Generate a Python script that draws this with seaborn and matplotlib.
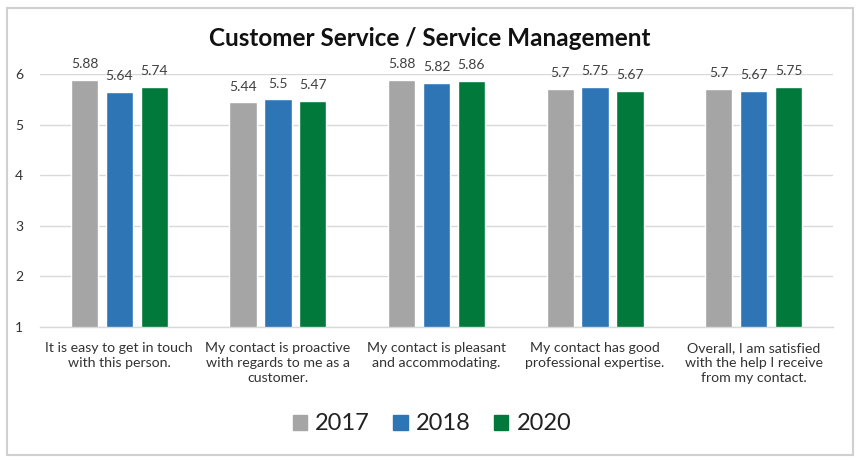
import matplotlib
matplotlib.use("Agg")
import matplotlib.pyplot as plt
import seaborn as sns
import pandas as pd
from matplotlib.patches import Rectangle

categories = [
    "It is easy to get in touch\nwith this person.",
    "My contact is proactive\nwith regards to me as a\ncustomer.",
    "My contact is pleasant\nand accommodating.",
    "My contact has good\nprofessional expertise.",
    "Overall, I am satisfied\nwith the help I receive\nfrom my contact.",
]
years = ["2017", "2018", "2020"]
values_2017 = [5.88, 5.44, 5.88, 5.7, 5.7]
values_2018 = [5.64, 5.5, 5.82, 5.75, 5.67]
values_2020 = [5.74, 5.47, 5.86, 5.67, 5.75]
label_2017 = ["5.88", "5.44", "5.88", "5.7", "5.7"]
label_2018 = ["5.64", "5.5", "5.82", "5.75", "5.67"]
label_2020 = ["5.74", "5.47", "5.86", "5.67", "5.75"]
colors = ["#A5A5A5", "#2E75B6", "#00793A"]

rows = []
for y, vals in zip(years, [values_2017, values_2018, values_2020]):
    for c, v in zip(categories, vals):
        rows.append({"category": c, "year": y, "value": v})
df = pd.DataFrame(rows)

sns.set_theme(style="white")
plt.rcParams["font.family"] = ["Lato", "DejaVu Sans"]

fig = plt.figure(figsize=(8.59, 4.63), dpi=100)
ax = fig.add_axes([40 / 859, 1 - 327 / 463, (833 - 40) / 859, (327 - 74) / 463])

sns.barplot(data=df, x="category", y="value", hue="year", order=categories,
            hue_order=years, palette=colors, width=0.66, gap=0.22,
            saturation=1, ax=ax, legend=True)

ax.set_ylim(1, 6)
ax.set_xlim(-0.5, 4.5)
ax.set_yticks([1, 2, 3, 4, 5, 6])
ax.yaxis.grid(True, color="#D9D9D9", linewidth=1)
ax.set_axisbelow(True)
for s in ["top", "right", "left"]:
    ax.spines[s].set_visible(False)
ax.spines["bottom"].set_color("#D9D9D9")
ax.spines["bottom"].set_linewidth(1)
ax.tick_params(axis="y", length=0, labelsize=10, labelcolor="#333333", pad=12)
ax.tick_params(axis="x", length=0, labelsize=10.2, labelcolor="#333333", pad=11)
ax.set_xlabel("")
ax.set_ylabel("")
for lab in ax.get_xticklabels():
    lab.set_linespacing(1.3)

for cont, labs in zip(ax.containers, [label_2017, label_2018, label_2020]):
    ax.bar_label(cont, labels=labs, padding=7, fontsize=10, color="#404040")

ax.legend_.remove()
handles = [Rectangle((0, 0), 1, 1, color=c) for c in colors]
fig.legend(handles, years, loc="center", bbox_to_anchor=(0.503, 1 - 424 / 463),
           ncol=3, frameon=False, fontsize=17, handlelength=0.6, handleheight=0.6,
           handletextpad=0.35, columnspacing=1.0, labelcolor="#222222")

fig.text(0.5, 1 - 38 / 463, "Customer Service / Service Management", ha="center",
         va="center", fontsize=17.5, fontweight="bold", color="#111111")

fig.patches.append(Rectangle((7 / 859, 1 - 455 / 463), 846 / 859, 447 / 463,
                             transform=fig.transFigure, fill=False,
                             edgecolor="#D0D0D0", linewidth=1.5))

fig.savefig("out.png", dpi=100)
